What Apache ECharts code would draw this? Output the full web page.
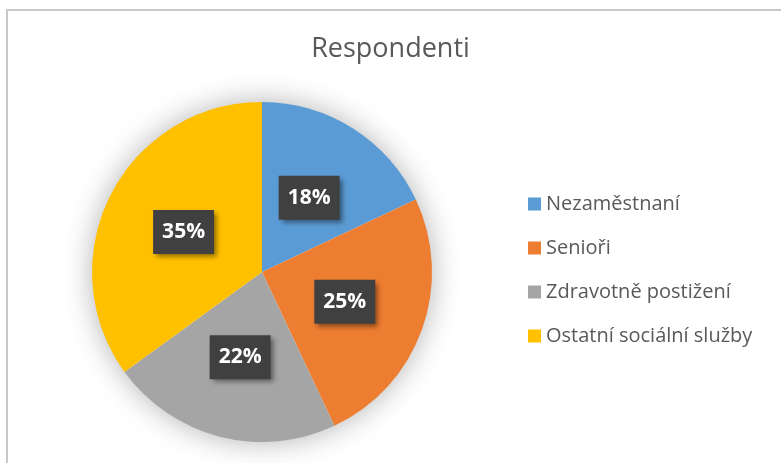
<!DOCTYPE html>
<html>
<head>
<meta charset="utf-8">
<script src="https://cdn.jsdelivr.net/npm/echarts@6/dist/echarts.min.js"></script>
<style>
html,body{margin:0;padding:0;background:#fff;}
#chart{width:781px;height:463px;}
</style>
</head>
<body>
<div id="chart"></div>
<script>
const categories = ['Nezaměstnaní', 'Senioři', 'Zdravotně postižení', 'Ostatní sociální služby'];
const values = [18, 25, 22, 35];
const colors = ['#5B9BD5', '#ED7D31', '#A5A5A5', '#FFC000'];
const titleText = 'Respondenti';

const chart = echarts.init(document.getElementById('chart'));
chart.setOption({
  animation: false,
  backgroundColor: '#ffffff',
  color: colors,
  title: {
    text: titleText,
    left: 'center',
    top: 31,
    textStyle: { fontFamily: 'Open Sans', fontSize: 27, fontWeight: 'normal', color: '#595959' }
  },
  legend: {
    orient: 'vertical',
    left: 523,
    top: 187,
    icon: 'rect',
    itemWidth: 13,
    itemHeight: 13,
    itemGap: 20,
    data: categories,
    textStyle: { fontFamily: 'Open Sans', fontSize: 20, color: '#595959', lineHeight: 24, padding: [0, 0, 0, 0] }
  },
  graphic: [{
    type: 'rect',
    shape: { x: 7, y: 10, width: 900, height: 600 },
    style: { fill: 'none', stroke: '#C8C8C8', lineWidth: 2 },
    silent: true,
    z: -1
  }],
  series: [{
    type: 'pie',
    name: 'shadow',
    silent: true,
    z: 1,
    center: [262, 272],
    radius: [0, 169],
    data: [{ name: '', value: 1 }],
    itemStyle: { color: '#ffffff', shadowBlur: 30, shadowColor: 'rgba(0,0,0,0.32)' },
    label: { show: false },
    labelLine: { show: false },
    emphasis: { disabled: true },
    tooltip: { show: false }
  }, {
    type: 'pie',
    z: 2,
    center: [262, 272],
    radius: [0, 170],
    startAngle: 90,
    clockwise: true,
    data: categories.map((c, i) => ({ name: c, value: values[i] })),
    emphasis: { disabled: true },
    label: {
      show: true,
      position: 'inside',
      formatter: p => Math.round(p.percent) + '%',
      fontFamily: 'Open Sans',
      fontSize: 21,
      fontWeight: 'bold',
      color: '#ffffff',
      backgroundColor: '#404040',
      padding: [9, 9, 9, 9],
      lineHeight: 26,
      shadowBlur: 5,
      shadowOffsetX: 3,
      shadowOffsetY: 3,
      shadowColor: 'rgba(0,0,0,0.45)'
    },
    labelLine: { show: false }
  }]
});
</script>
</body>
</html>
